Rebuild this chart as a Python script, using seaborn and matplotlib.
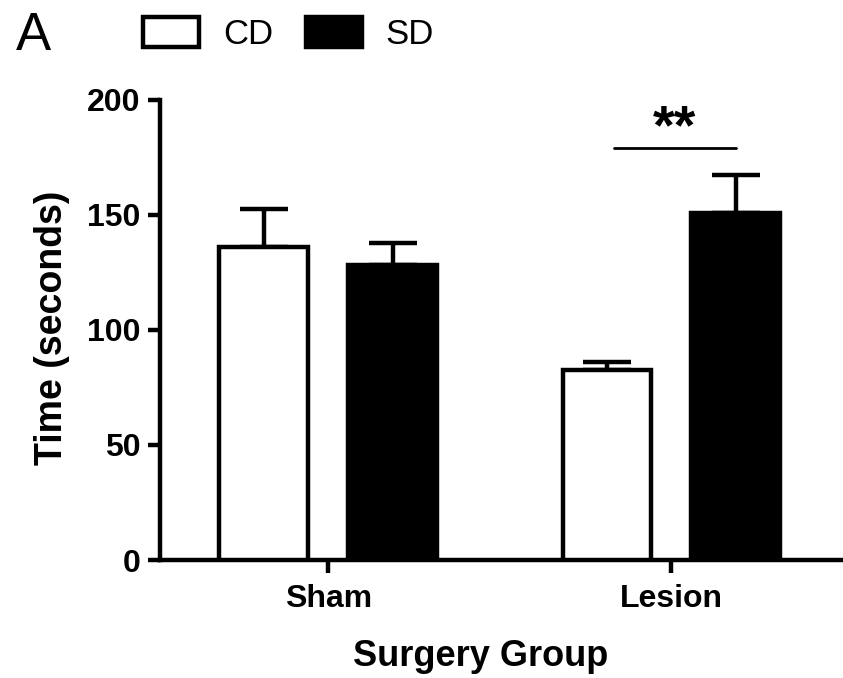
import matplotlib
matplotlib.use("Agg")
import matplotlib.pyplot as plt
import seaborn as sns
import pandas as pd
from matplotlib.patches import Patch

groups = ["Sham", "Lesion"]
diets = ["CD", "SD"]
cd_means = [136.0, 82.6]
sd_means = [128.3, 150.7]
cd_sem = [16.5, 3.6]
sd_sem = [9.7, 16.7]
sig_label = "**"
sig_y = 179

df = pd.DataFrame({
    "group": groups + groups,
    "diet": ["CD"] * 2 + ["SD"] * 2,
    "time": cd_means + sd_means,
})
sems = {("CD", g): s for g, s in zip(groups, cd_sem)}
sems.update({("SD", g): s for g, s in zip(groups, sd_sem)})

sns.set_theme(style="ticks")
plt.rcParams["font.family"] = ["Liberation Sans", "DejaVu Sans"]
plt.rcParams["text.color"] = "black"
plt.rcParams["axes.labelcolor"] = "black"

LW = 3.2
fig = plt.figure(figsize=(8.43, 6.78), dpi=100)
ax = fig.add_axes([160 / 843, 1 - 560 / 678, (843 - 160) / 843, 460 / 678])

sns.barplot(data=df, x="group", y="time", hue="diet", order=groups, hue_order=diets,
            palette={"CD": "white", "SD": "black"}, edgecolor="black", linewidth=LW,
            width=0.75, gap=0.31, errorbar=None, legend=False, ax=ax, zorder=3)

for cont, d in zip(ax.containers, diets):
    for bar, g in zip(cont, groups):
        xc = bar.get_x() + bar.get_width() / 2
        h = bar.get_height()
        ax.errorbar(xc, h, yerr=[[0], [sems[(d, g)]]], fmt="none", ecolor="black",
                    elinewidth=LW, capsize=17, capthick=LW, zorder=2)

# significance bar between Lesion CD and Lesion SD
lc = ax.containers[0][1]
ls = ax.containers[1][1]
x1 = lc.get_x() + lc.get_width() / 2 + 0.02
x2 = ls.get_x() + ls.get_width() / 2
ax.plot([x1, x2], [sig_y, sig_y], color="black", lw=2.0, clip_on=False)
ax.text((x1 + x2) / 2, sig_y + 2, sig_label, ha="center", va="baseline",
        fontsize=40, fontweight="bold", color="black")

ax.set_ylim(0, 200)
ax.set_xlim(-0.49, 1.5)
ax.set_yticks([0, 50, 100, 150, 200])
sns.despine(ax=ax)
for s in ["left", "bottom"]:
    ax.spines[s].set_linewidth(LW)
    ax.spines[s].set_color("black")
ax.tick_params(axis="both", width=LW, length=9, labelsize=23, colors="black")
ax.tick_params(axis="y", pad=5)
ax.tick_params(axis="x", pad=8)
for lab in ax.get_xticklabels() + ax.get_yticklabels():
    lab.set_fontweight("bold")
ax.set_xlabel("Surgery Group", fontsize=26, fontweight="bold")
ax.xaxis.set_label_coords(0.47, -0.172)
ax.set_ylabel("Time (seconds)", fontsize=27, fontweight="bold")
ax.yaxis.set_label_coords(-0.132, 0.505)

handles = [Patch(facecolor="white", edgecolor="black", linewidth=LW),
           Patch(facecolor="black", edgecolor="black", linewidth=LW)]
fig.legend(handles, diets, loc="center left", bbox_to_anchor=(143 / 843, 1 - 34 / 678),
           ncol=2, frameon=False, fontsize=25, handlelength=1.6, handleheight=0.95,
           columnspacing=0.95, handletextpad=0.7, borderaxespad=0, borderpad=0)

fig.text(16 / 843, 1 - 36 / 678, "A", fontsize=38, va="center", ha="left")

fig.savefig("out.png", dpi=100)
